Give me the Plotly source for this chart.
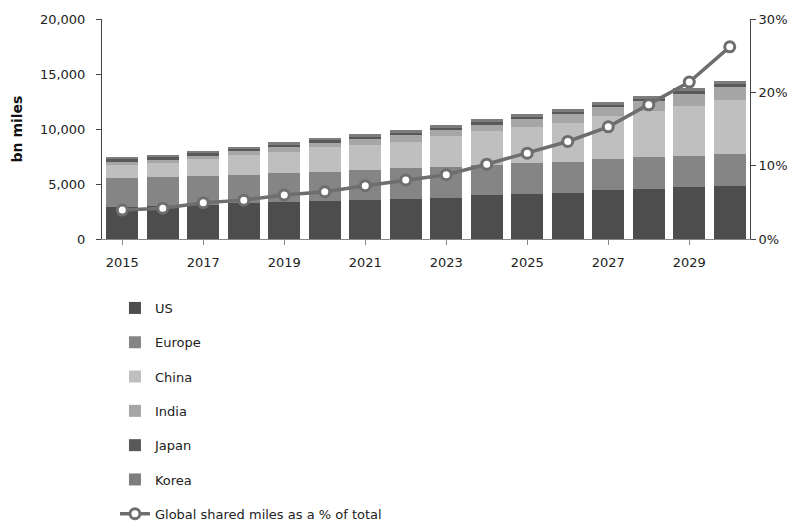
import plotly.graph_objects as go

years = list(range(2015, 2031))
us =     [2880, 2980, 3120, 3240, 3340, 3430, 3550, 3670, 3770, 3970, 4090, 4210, 4430, 4550, 4750, 4850]
europe = [2670, 2630, 2590, 2605, 2630, 2660, 2720, 2740, 2750, 2760, 2850, 2820, 2840, 2900, 2820, 2850]
china =  [1180, 1270, 1540, 1795, 1970, 2250, 2275, 2440, 2810, 3090, 3270, 3540, 3940, 4190, 4520, 4940]
india =  [280, 320, 310, 320, 400, 400, 505, 580, 550, 560, 670, 770, 750, 870, 1080, 1210]
japan =  [220, 230, 230, 230, 230, 230, 240, 240, 240, 240, 240, 240, 240, 240, 240, 240]
korea =  [200, 210, 210, 210, 220, 220, 230, 240, 260, 260, 270, 270, 280, 280, 290, 300]
shared_pct = [3.95, 4.2, 4.95, 5.3, 6.0, 6.45, 7.27, 8.05, 8.77, 10.2, 11.7, 13.3, 15.3, 18.3, 21.4, 26.2]

series = [("US", us, "#4d4d4d"), ("Europe", europe, "#858585"), ("China", china, "#bfbfbf"),
          ("India", india, "#a6a6a6"), ("Japan", japan, "#595959"), ("Korea", korea, "#7d7d7d")]

font = "DejaVu Sans"
fig = go.Figure()
for i, (name, vals, col) in enumerate(series):
    fig.add_trace(go.Bar(x=years, y=vals, name=name, marker=dict(color=col, line=dict(width=0)),
                         legendgroup=name))
fig.add_trace(go.Scatter(x=years, y=shared_pct, name="Global shared miles as a % of total", yaxis="y2",
                         mode="lines+markers", line=dict(color="#6e6e6e", width=3.5),
                         marker=dict(symbol="circle", size=10, color="white", line=dict(color="#6e6e6e", width=3)),
                         legendgroup="line"))

# paper area: top 19px, bottom 5px; plot occupies pixel rows 19..239
H_paper = 524 - 19 - 5
dom_low = (524 - 5 - 239) / H_paper

fig.update_layout(
    width=795, height=524, barmode="stack", bargap=0.2,
    margin=dict(l=102, r=45, t=19, b=5, autoexpand=False),
    plot_bgcolor="white", paper_bgcolor="white",
    font=dict(family=font, size=13, color="#333333"),
    xaxis=dict(range=[2014.5, 2030.5], tickmode="linear", tick0=2015, dtick=2, showgrid=False,
               showline=True, linecolor="#888888", linewidth=1, ticks="outside", ticklen=5,
               tickcolor="#888888", zeroline=False, ticklabelstandoff=6,
               tickfont=dict(size=13, color="#222222"), anchor="y", automargin=False),
    yaxis=dict(domain=[dom_low, 1], range=[0, 20000], tickvals=[0, 5000, 10000, 15000, 20000],
               ticktext=["0", "5,000", "10,000", "15,000", "20,000"], showgrid=False,
               showline=True, linecolor="#444444", linewidth=1, ticks="outside", ticklen=5,
               tickcolor="#444444", zeroline=False, ticklabelstandoff=8, automargin=False,
               tickfont=dict(size=13, color="#222222"),
               title=dict(text="<b>bn miles</b>", font=dict(size=14, color="#111111"), standoff=14)),
    yaxis2=dict(domain=[dom_low, 1], range=[0, 30], overlaying="y", side="right", anchor="x",
                tickvals=[0, 10, 20, 30], automargin=False,
                ticktext=["0%", "10%", "20%", "30%"], showgrid=False, showline=True,
                linecolor="#444444", linewidth=1, ticks="outside", ticklen=5, tickcolor="#444444",
                zeroline=False, tickfont=dict(size=13, color="#222222")),
    legend=dict(orientation="v", x=0.02, xanchor="left", y=(519 - 293) / H_paper, yanchor="top",
                traceorder="grouped", tracegroupgap=14.4, font=dict(size=13, color="#222222"),
                bgcolor="rgba(0,0,0,0)"),
    showlegend=True,
)
fig.write_html("out.html")
